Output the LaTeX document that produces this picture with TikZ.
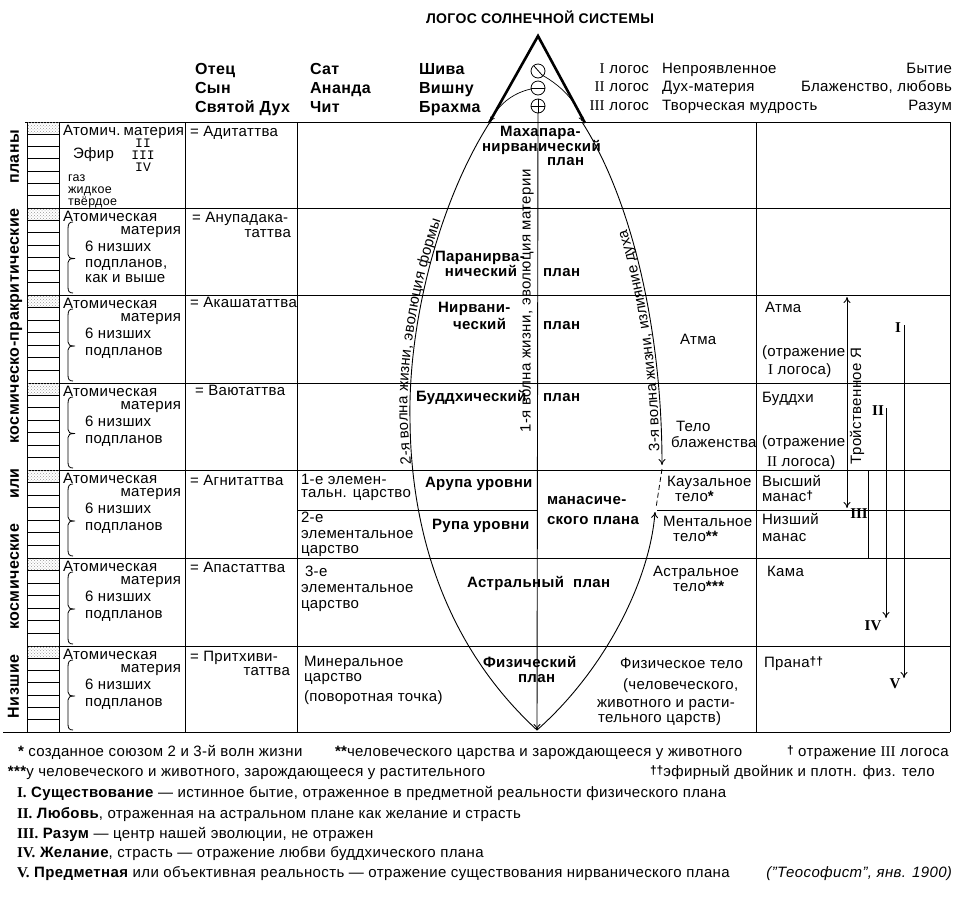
\documentclass[tikz,border=0pt]{standalone}
\usepackage{fontspec}
\setmainfont{Liberation Sans}[LetterSpace=2.5]
\newfontfamily\rmnum{Liberation Serif}
\newfontfamily\monnum{Liberation Mono}
\usetikzlibrary{arrows.meta,decorations.text,patterns}
\newcommand{\fsz}[1]{\fontsize{#1}{#1}\selectfont}
\newcommand{\wavefont}{\fontsize{15}{15}\selectfont}
\newcommand{\dg}{\raisebox{2pt}{\bfseries\fsz{12}†}}
\newcommand{\astk}{{\bfseries *}}
\tikzset{
  tx/.style={anchor=west, inner sep=0pt, outer sep=0pt, text height=10pt, text depth=1pt, font=\fsz{15}},
  txr/.style={tx, anchor=east},
  bd/.style={tx, font=\fsz{15}\bfseries},
  bdr/.style={bd, anchor=east},
  hd/.style={tx, font=\fsz{16}\bfseries},
  sm/.style={tx, font=\fsz{12.5}},
  rn/.style={anchor=center, inner sep=0pt, font=\rmnum\bfseries\fsz{15}},
  tline/.style={line width=1pt},
  arr/.style={line width=0.9pt, -{To[length=6pt,width=7pt]}},
  barr/.style={line width=0.9pt, {To[length=6pt,width=7pt]}-{To[length=6pt,width=7pt]}},
}
\begin{document}
\begin{tikzpicture}[x=1pt,y=-1pt]
\useasboundingbox (0,0) rectangle (961,898);
\fill[white] (0,0) rectangle (961,898);

% ---------- header ----------
\node[inner sep=0pt, font=\fsz{14}\bfseries] (title) at (540,17) {ЛОГОС СОЛНЕЧНОЙ СИСТЕМЫ};
\node[hd] (h1a) at (195,70) {Отец};
\node[hd] (h1b) at (195,89) {Сын};
\node[hd] (h1c) at (195,108) {Святой Дух};
\node[hd] (h2a) at (310,70) {Сат};
\node[hd] (h2b) at (310,89) {Ананда};
\node[hd] (h2c) at (310,108) {Чит};
\node[hd] (h3a) at (419,70) {Шива};
\node[hd] (h3b) at (419,89) {Вишну};
\node[hd] (h3c) at (419,108) {Брахма};

\node[txr] (lg1) at (649,69) {{\rmnum I} логос};
\node[txr] (lg2) at (649,87) {{\rmnum II} логос};
\node[txr] (lg3) at (649,106) {{\rmnum III} логос};
\node[tx] (lt1) at (662,69) {Непроявленное};
\node[tx] (lt2) at (662,87) {Дух-материя};
\node[tx] (lt3) at (662,106) {Творческая мудрость};
\node[txr] (lr1) at (952,69) {Бытие};
\node[txr] (lr2) at (952,87) {Блаженство, любовь};
\node[txr] (lr3) at (952,106) {Разум};

% ---------- triangle ----------
\draw[line width=2.6pt, line join=miter] (489,123) -- (538,36) -- (585,123);
\draw[line width=0.8pt] (538,71) circle[radius=7];
\draw[line width=0.8pt] (534,66) -- (542,75);
\draw[line width=0.8pt] (538,88) circle[radius=7];
\draw[line width=0.8pt] (531,88) -- (545,88);
\draw[line width=0.8pt] (538,106) circle[radius=7];
\draw[line width=0.8pt] (531,106) -- (545,106);
\draw[line width=0.8pt] (538,99) -- (538,113);
\draw[line width=0.7pt, -{To[length=4pt,width=5pt]}] (531,89) .. controls (512,93) and (497,106) .. (491,121);
\draw[line width=0.7pt, -{To[length=4pt,width=5pt]}] (542,75) .. controls (565,88) and (578,105) .. (582,121);

% ---------- table ----------
\draw[tline] (25,122) -- (950,122);
\foreach \y in {208,295,383,470,558,646} \draw[tline] (27,\y) -- (950,\y);
\draw[tline] (3,732) -- (950,732);
\foreach \x in {27,59,185,297,756,950} \draw[tline] (\x,122) -- (\x,732);
\draw[tline] (297,510) -- (537,510);
\draw[tline] (657,510) -- (950,510);
\draw[tline] (868,470) -- (868,558);

\foreach \t/\b in {122/208,208/295,295/383,383/470,470/558,558/646,646/732} {
  \fill[pattern=crosshatch dots, pattern color=gray!80] (27.5,\t+0.5) rectangle (58.5,{\t+(\b-\t)/7});
  \foreach \k in {1,...,6} \draw[line width=0.8pt] (27,{\t+\k*(\b-\t)/7}) -- (59,{\t+\k*(\b-\t)/7});
}

% side label
\node[rotate=90, inner sep=0pt, font=\fsz{16}\bfseries] (side) at (15,424) {\makebox[588pt][s]{Низшие космические или космическо-пракритические планы}};

% ---------- row 1 ----------
\node[tx] (r1a) at (63,131) {Атомич.};
\node[txr] (r1b) at (184,131) {материя};
\node[tx] (r1c) at (73,154) {Эфир};
\node[anchor=center, inner sep=0pt, font=\monnum\fsz{13}] (r1d) at (143,143) {II};
\node[anchor=center, inner sep=0pt, font=\monnum\fsz{13}] (r1e) at (143,155) {III};
\node[anchor=center, inner sep=0pt, font=\monnum\fsz{13}] (r1f) at (143,167) {IV};
\node[sm] (r1g) at (68,177) {газ};
\node[sm] (r1h) at (68,189) {жидкое};
\node[sm] (r1i) at (68,201) {твёрдое};
\node[tx] (r1r) at (190,132) {= Адитаттва};

% ---------- rows 2-7 left ----------
\foreach \t/\b/\i in {208/295/2,295/383/3,383/470/4,470/558/5,558/646/6,646/732/7} {
  \node[tx] (am\i) at (63,\t+9) {Атомическая};
  \node[txr] (mt\i) at (181,\t+22) {материя};
  \node[tx] (nz\i) at (85,\t+39) {6 низших};
  \draw[line width=0.8pt] (73,\t+14) .. controls (69,\t+14) and (68,\t+16) .. (68,\t+21)
     -- (68,{(\t+\b)/2+3}) .. controls (68,{(\t+\b)/2+6}) and (70,{(\t+\b)/2+7}) .. (75,{(\t+\b)/2+7})
     .. controls (70,{(\t+\b)/2+7}) and (68,{(\t+\b)/2+8}) .. (68,{(\t+\b)/2+11})
     -- (68,\b-8) .. controls (68,\b-4) and (69,\b-2) .. (73,\b-2);
}
\foreach \t/\i in {295/3,383/4,470/5,558/6,646/7} {
  \node[tx] (pp\i) at (85,\t+56) {подпланов};
}
\node[tx] (pp2) at (85,263) {подпланов,};
\node[tx] (kv2) at (85,278) {как и выше};

\node[tx] (e2a) at (192,218) {= Анупадака-};
\node[txr] (e2b) at (291,233) {таттва};
\node[tx] (e3) at (190,303) {= Акашататтва};
\node[tx] (e4) at (195,391) {= Ваютаттва};
\node[tx] (e5) at (190,481) {= Агнитаттва};
\node[tx] (e6) at (190,568) {= Апастаттва};
\node[tx] (e7a) at (190,657) {= Притхиви-};
\node[txr] (e7b) at (290,671) {таттва};

% ---------- elemental kingdoms ----------
\node[tx] (k1a) at (301,480) {1-е элемен-};
\node[tx] (k1b) at (301,493) {тальн. царство};
\node[tx] (k2a) at (301,518) {2-е};
\node[tx] (k2b) at (301,534) {элементальное};
\node[tx] (k2c) at (301,549) {царство};
\node[tx] (k3a) at (305,572) {3-е};
\node[tx] (k3b) at (301,588) {элементальное};
\node[tx] (k3c) at (301,604) {царство};
\node[tx] (k4a) at (304,662) {Минеральное};
\node[tx] (k4b) at (304,677) {царство};
\node[tx] (k4c) at (304,697) {(поворотная точка)};

% ---------- vesica ----------
\coordinate (tl) at (490,122);
\coordinate (tr) at (582,122);
\coordinate (bot) at (537,730);
\coordinate (up3) at (655,512);
\draw[arr] (538,113) -- (bot);
\draw[arr] (tl) .. controls (440,200) and (408,320) .. (410,420) .. controls (411,540) and (450,650) .. (bot)
   .. controls (605,670) and (650,580) .. (up3);
\draw[arr] (tr) .. controls (632,200) and (662,330) .. (662,465);
\draw[line width=0.8pt, dash pattern=on 5pt off 3pt] (662,469) -- (656,508);

\path[decorate, decoration={text along path, raise=2.5pt, text align={left indent=6pt},
   text={|\wavefont|2-я волна  жизни, эволюция формы}}]
   (414,470) -- (410,420) .. controls (408,320) and (440,200) .. (490,122);
\path[decorate, decoration={text along path, raise=2.5pt, text align={left indent=14pt},
   text={|\wavefont|3-я волна жизни, излияние духа}}]
   (662,465) .. controls (662,330) and (632,200) .. (582,122);
\node[rotate=90, inner sep=0pt, font=\fsz{15}] (w1) at (527,301) {1-я волна жизни, эволюция материи};

\node[bd] (p1a) at (500,132) {Махапара-};
\node[bd] (p1b) at (482,147) {нирванический};
\node[bd] (p1c) at (547,161) {план};
\node[bd] (p2a) at (435,257) {Паранирва-};
\node[bdr] (p2b) at (517,272) {нический};
\node[bd] (p2c) at (543,272) {план};
\node[bd] (p3a) at (438,308) {Нирвани-};
\node[bd] (p3b) at (453,325) {ческий};
\node[bd] (p3c) at (543,325) {план};
\node[bd] (p4a) at (416,397) {Буддхический};
\node[bd] (p4c) at (543,397) {план};
\node[bd] (p5a) at (425,483) {Арупа уровни};
\node[bd] (p5b) at (547,500) {манасиче-};
\node[bd] (p5c) at (547,520) {ского плана};
\node[bd] (p5d) at (432,525) {Рупа уровни};
\node[bd] (p6) at (467,583) {Астральный\ \ план};
\node[bd] (p7a) at (483,663) {Физический};
\node[bd] (p7b) at (518,678) {план};

% ---------- bodies ----------
\node[tx] (b1) at (680,340) {Атма};
\node[tx] (b2a) at (676,427) {Тело};
\node[tx] (b2b) at (671,443) {блаженства};
\node[tx] (b3a) at (667,482) {Каузальное};
\node[tx] (b3b) at (675,497) {тело\astk};
\node[tx] (b4a) at (663,522) {Ментальное};
\node[tx] (b4b) at (673,537) {тело\astk\astk};
\node[tx] (b5a) at (653,572) {Астральное};
\node[tx] (b5b) at (673,587) {тело\astk\astk\astk};
\node[tx] (b6a) at (620,664) {Физическое тело};
\node[tx] (b6b) at (623,685) {(человеческого,};
\node[tx] (b6c) at (597,703) {животного и расти-};
\node[tx] (b6d) at (598,718) {тельного царств)};

% ---------- principles ----------
\node[tx] (c1) at (765,308) {Атма};
\node[tx] (c1b) at (762,352) {(отражение};
\node[tx] (c1c) at (768,370) {{\rmnum I} логоса)};
\node[tx] (c2) at (762,398) {Буддхи};
\node[tx] (c2b) at (762,442) {(отражение};
\node[tx] (c2c) at (767,462) {{\rmnum II} логоса)};
\node[tx] (c3a) at (762,482) {Высший};
\node[tx] (c3b) at (762,497) {манас\dg};
\node[tx] (c4a) at (762,520) {Низший};
\node[tx] (c4b) at (762,537) {манас};
\node[tx] (c5) at (767,572) {Кама};
\node[tx] (c6) at (764,663) {Прана\dg\dg};

% ---------- right arrows ----------
\coordinate (ty1) at (847,297);
\coordinate (ty2) at (847,508);
\draw[barr] (ty1) -- (ty2);
\node[rotate=90, inner sep=0pt, font=\fsz{15}] (tri) at (857,406) {Тройственное Я};
\node[rn] (n1) at (898,328) {I};
\coordinate (a1s) at (904,325);
\coordinate (a1e) at (904,678);
\draw[arr] (a1s) -- (a1e);
\node[rn] (n2) at (878,411) {II};
\coordinate (a2s) at (886,408);
\coordinate (a2e) at (886,618);
\draw[arr] (a2s) -- (a2e);
\node[rn] (n3) at (859,514) {III};
\node[rn] (n4) at (873,626) {IV};
\node[rn] (n5) at (895,684) {V};

% ---------- footnotes ----------
\node[tx] (f1a) at (18,752) {\astk\ созданное союзом 2 и 3-й волн жизни};
\node[tx] (f1b) at (335,752) {\astk\astk человеческого царства и зарождающееся у животного};
\node[tx] (f1c) at (787,752) {\dg\ отражение {\rmnum III} логоса};
\node[tx] (f2a) at (8,772) {\astk\astk\astk у человеческого и животного, зарождающееся у растительного};
\node[tx] (f2b) at (650,772) {\dg\dg эфирный двойник и плотн. физ. тело};
\node[tx] (f3) at (17,793) {{\rmnum\bfseries I.} {\bfseries Существование} — истинное бытие, отраженное в предметной реальности физического плана};
\node[tx] (f4) at (17,814) {{\rmnum\bfseries II.} {\bfseries Любовь}, отраженная на астральном плане как желание и страсть};
\node[tx] (f5) at (17,834) {{\rmnum\bfseries III.} {\bfseries Разум} — центр нашей эволюции, не отражен};
\node[tx] (f6) at (17,853) {{\rmnum\bfseries IV.} {\bfseries Желание}, страсть — отражение любви буддхического плана};
\node[tx] (f7) at (17,873) {{\rmnum\bfseries V.} {\bfseries Предметная} или объективная реальность — отражение существования нирванического плана};
\node[txr] (f8) at (952,873) {\itshape ("Теософист", янв. 1900)};
\end{tikzpicture}
\end{document}
